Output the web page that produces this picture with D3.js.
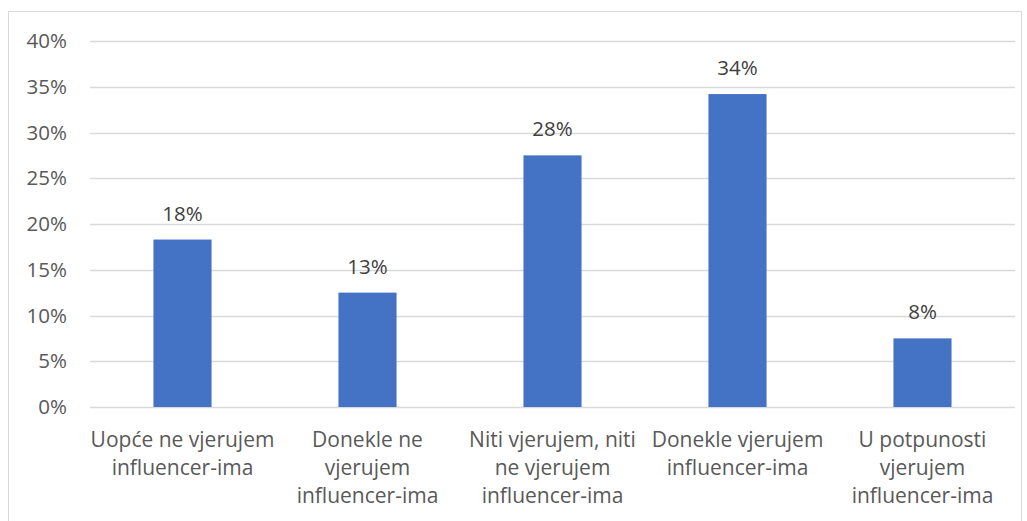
<!DOCTYPE html>
<html>
<head>
<meta charset="utf-8">
<script src="https://cdn.jsdelivr.net/npm/d3@7"></script>
<style>
  body { margin: 0; background: #fff; }
  svg text { font-family: "Open Sans", "Noto Sans", sans-serif; }
</style>
</head>
<body>
<div id="chart"></div>
<script>
// chart data
const categories = [
    ["Uopće ne vjerujem", "influencer-ima"],
    ["Donekle ne", "vjerujem", "influencer-ima"],
    ["Niti vjerujem, niti", "ne vjerujem", "influencer-ima"],
    ["Donekle vjerujem", "influencer-ima"],
    ["U potpunosti", "vjerujem", "influencer-ima"]
]
const values = [0.183, 0.125, 0.275, 0.342, 0.075]
const yTicks = [0, 0.05, 0.10, 0.15, 0.20, 0.25, 0.30, 0.35, 0.40]

const W = 1027, H = 521
const margin = {top: 41, right: 12, bottom: 114, left: 90}

const svg = d3.select("#chart").append("svg")
    .attr("width", W)
    .attr("height", H)

// outer border
svg.append("rect")
    .attr("x", 8.5).attr("y", 11.5)
    .attr("width", 1013).attr("height", 520)
    .attr("fill", "none")
    .attr("stroke", "#d9d9d9")

const x = d3.scaleBand()
    .domain(d3.range(categories.length))
    .range([margin.left, W - margin.right])
    .paddingInner(0.686)
    .paddingOuter(0.343)

const y = d3.scaleLinear()
    .domain([0, 0.40])
    .range([H - margin.bottom, margin.top])

//gridlines
svg.append("g").selectAll("line")
    .data(yTicks)
    .join("line")
    .attr("x1", margin.left)
    .attr("x2", W - margin.right)
    .attr("y1", d => Math.round(y(d)) + 0.5)
    .attr("y2", d => Math.round(y(d)) + 0.5)
    .attr("stroke", "#d9d9d9")
    .attr("stroke-width", 1.5)

// y axis labels
const yAxis = d3.axisLeft(y)
    .tickValues(yTicks)
    .tickFormat(d3.format(".0%"))
    .tickSize(0)
    .tickPadding(23)

svg.append("g")
    .attr("transform", `translate(${margin.left},0)`)
    .call(yAxis)
    .call(g => g.select(".domain").remove())
    .call(g => g.selectAll("text")
        .attr("fill", "#595959")
        .style("font-size", "20.5px"))

// bars
svg.append("g").selectAll("rect")
    .data(values)
    .join("rect")
    .attr("x", (d, i) => x(i))
    .attr("y", d => y(d))
    .attr("width", x.bandwidth())
    .attr("height", d => y(0) - y(d))
    .attr("fill", "#4472c4")

// data labels
svg.append("g").selectAll("text")
    .data(values)
    .join("text")
    .attr("x", (d, i) => x(i) + x.bandwidth() / 2)
    .attr("y", d => y(d) - 19)
    .attr("text-anchor", "middle")
    .attr("fill", "#404040")
    .style("font-size", "20.5px")
    .text(d => d3.format(".0%")(d))

// category labels
const catG = svg.append("g").selectAll("text")
    .data(categories)
    .join("text")
    .attr("text-anchor", "middle")
    .attr("fill", "#595959")
    .style("font-size", "21px")
    .attr("x", (d, i) => x(i) + x.bandwidth() / 2)
    .attr("y", y(0) + 40)

catG.selectAll("tspan")
    .data(d => d)
    .join("tspan")
    .attr("x", function() { return d3.select(this.parentNode).attr("x") })
    .attr("dy", (d, i) => i === 0 ? 0 : 28)
    .text(d => d)
</script>
</body>
</html>
